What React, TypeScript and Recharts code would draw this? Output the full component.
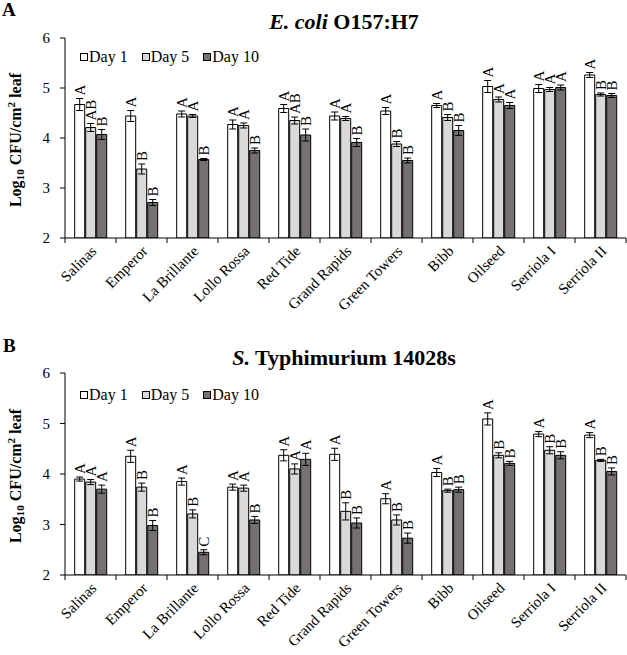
import React from 'react';
import { BarChart, Bar, XAxis, YAxis, ErrorBar, LabelList } from 'recharts';

const categories = ['Salinas', 'Emperor', 'La Brillante', 'Lollo Rossa', 'Red Tide', 'Grand Rapids', 'Green Towers', 'Bibb', 'Oilseed', 'Serriola I', 'Serriola II'];
const yTicks = [2, 3, 4, 5, 6];

// A: E. coli O157:H7
const ecoliDay1 = [4.67, 4.44, 4.48, 4.27, 4.59, 4.44, 4.54, 4.65, 5.03, 4.99, 5.26];
const ecoliDay5 = [4.21, 3.38, 4.44, 4.25, 4.35, 4.39, 3.88, 4.41, 4.77, 4.97, 4.87];
const ecoliDay10 = [4.07, 2.71, 3.57, 3.75, 4.06, 3.91, 3.55, 4.15, 4.65, 5.01, 4.85];
const ecoliErr1 = [0.12, 0.11, 0.06, 0.09, 0.08, 0.08, 0.07, 0.04, 0.12, 0.08, 0.05];
const ecoliErr5 = [0.08, 0.1, 0.03, 0.05, 0.07, 0.04, 0.05, 0.06, 0.05, 0.04, 0.03];
const ecoliErr10 = [0.1, 0.06, 0.02, 0.05, 0.12, 0.08, 0.05, 0.1, 0.06, 0.05, 0.04];
const ecoliLetters1 = ['A', 'A', 'A', 'A', 'A', 'A', 'A', 'A', 'A', 'A', 'A'];
const ecoliLetters5 = ['AB', 'B', 'A', 'A', 'AB', 'A', 'B', 'B', 'A', 'A', 'B'];
const ecoliLetters10 = ['B', 'B', 'B', 'B', 'B', 'B', 'B', 'B', 'A', 'A', 'B'];

// B: S. Typhimurium 14028s
const salDay1 = [3.9, 4.35, 3.85, 3.74, 4.37, 4.39, 3.51, 4.03, 5.09, 4.79, 4.77];
const salDay5 = [3.84, 3.74, 3.21, 3.72, 4.1, 3.26, 3.09, 3.67, 4.37, 4.47, 4.27];
const salDay10 = [3.7, 2.98, 2.45, 3.09, 4.29, 3.03, 2.73, 3.69, 4.21, 4.37, 4.05];
const salErr1 = [0.04, 0.12, 0.07, 0.06, 0.11, 0.12, 0.1, 0.08, 0.12, 0.05, 0.05];
const salErr5 = [0.05, 0.08, 0.08, 0.06, 0.1, 0.17, 0.1, 0.03, 0.05, 0.07, 0.02];
const salErr10 = [0.08, 0.1, 0.05, 0.07, 0.12, 0.1, 0.1, 0.05, 0.04, 0.07, 0.07];
const salLetters1 = ['A', 'A', 'A', 'A', 'A', 'A', 'A', 'A', 'A', 'A', 'A'];
const salLetters5 = ['A', 'B', 'B', 'A', 'A', 'B', 'B', 'B', 'B', 'B', 'B'];
const salLetters10 = ['A', 'B', 'C', 'B', 'A', 'B', 'B', 'B', 'B', 'B', 'B'];

const FONT = '"Liberation Serif", "Times New Roman", serif';
const series = [
  { key: 'd1', err: 'e1', letter: 'l1', label: 'Day 1', fill: '#ffffff' },
  { key: 'd5', err: 'e5', letter: 'l5', label: 'Day 5', fill: '#d9d9d9' },
  { key: 'd10', err: 'e10', letter: 'l10', label: 'Day 10', fill: '#767171' },
];

const buildRows = (d1: number[], d5: number[], d10: number[], e1: number[], e5: number[], e10: number[], l1: string[], l5: string[], l10: string[]) =>
  categories.map((name, i) => ({
    name,
    d1: d1[i], d5: d5[i], d10: d10[i],
    e1: e1[i], e5: e5[i], e10: e10[i],
    l1: l1[i], l5: l5[i], l10: l10[i],
  }));

const ecoliRows = buildRows(ecoliDay1, ecoliDay5, ecoliDay10, ecoliErr1, ecoliErr5, ecoliErr10, ecoliLetters1, ecoliLetters5, ecoliLetters10);
const salRows = buildRows(salDay1, salDay5, salDay10, salErr1, salErr5, salErr10, salLetters1, salLetters5, salLetters10);

// category label at the centre, tick marks on the category boundaries (Excel style)
const CategoryTick = (props: any) => {
  const { x, y, payload } = props;
  const half = payload.offset || 25.5;
  const last = payload.value === categories[categories.length - 1];
  const ax = x + 7;
  const ay = y + 14;
  return (
    <g>
      <line x1={x - half} y1={y} x2={x - half} y2={y + 5} stroke="#000" />
      {last && <line x1={x + half} y1={y} x2={x + half} y2={y + 5} stroke="#000" />}
      <text x={ax} y={ay} transform={`rotate(-45, ${ax}, ${ay})`} textAnchor="end" fontSize={15} fontFamily={FONT} fill="#000">
        {payload.value}
      </text>
    </g>
  );
};

// significance letter sitting on top of the error bar, rotated
const Letter = (props: any) => {
  const { value, index, rows, valueKey, errKey } = props;
  const vb = props.viewBox || {};
  const x = Number(props.x ?? vb.x);
  const y = Number(props.y ?? vb.y);
  const w = Number(props.width ?? vb.width);
  const h = Number(props.height ?? vb.height);
  const row = rows[index];
  if (!row) return null;
  const ppu = h / (row[valueKey] - 2);
  const top = y - row[errKey] * ppu - 3;
  const cx = x + w / 2;
  return (
    <text x={cx} y={top} transform={`rotate(-90, ${cx}, ${top})`} textAnchor="start" dominantBaseline="central" fontSize={15} fontFamily={FONT} fill="#000">
      {value}
    </text>
  );
};

const Panel = ({ rows, height, xAxisHeight }: { rows: any[]; height: number; xAxisHeight: number }) => (
  <BarChart width={627} height={height} data={rows} margin={{ top: 38, right: 1, left: 0, bottom: 0 }} barCategoryGap="19%" barGap={1}>
    <XAxis dataKey="name" interval={0} tickLine={false} tickSize={0} tickMargin={0} tick={<CategoryTick />} height={xAxisHeight} axisLine={{ stroke: '#000' }} />
    <YAxis
      domain={[2, 6]}
      ticks={yTicks}
      width={65}
      tickSize={5}
      tickMargin={10}
      allowDataOverflow
      axisLine={{ stroke: '#000' }}
      tickLine={{ stroke: '#000' }}
      tick={{ fill: '#000', fontSize: 15, fontFamily: FONT }}
    />
    {series.map((s) => (
      <Bar key={s.key} dataKey={s.key} fill={s.fill} stroke="#000" strokeWidth={1} isAnimationActive={false}>
        <ErrorBar dataKey={s.err} direction="y" width={3.5} stroke="#000" strokeWidth={1} />
        <LabelList dataKey={s.letter} content={(p: any) => <Letter {...p} rows={rows} valueKey={s.key} errKey={s.err} />} />
      </Bar>
    ))}
  </BarChart>
);

const LegendRow = ({ top }: { top: number }) => (
  <div style={{ position: 'absolute', left: 80, top, display: 'flex', gap: 14, fontFamily: FONT, fontSize: 16, lineHeight: '16px', alignItems: 'center' }}>
    {series.map((s) => (
      <span key={s.key} style={{ display: 'flex', alignItems: 'center' }}>
        <span style={{ display: 'inline-block', width: 6, height: 6, border: '1px solid #000', background: s.fill, marginRight: 1 }} />
        {s.label}
      </span>
    ))}
  </div>
);

const YLabel = ({ cy }: { cy: number }) => (
  <div style={{ position: 'absolute', left: 16, top: cy, transform: 'translate(-50%, -50%) rotate(-90deg)', whiteSpace: 'nowrap', fontFamily: FONT, fontWeight: 'bold', fontSize: 16, lineHeight: 1 }}>
    Log<sub style={{ fontSize: '0.7em', verticalAlign: '-0.25em' }}>10</sub> CFU/cm<sup style={{ fontSize: '0.7em', verticalAlign: '0.5em' }}>2</sup> leaf
  </div>
);

const panelLetter = { position: 'absolute' as const, fontFamily: FONT, fontWeight: 'bold' as const, fontSize: 19, lineHeight: '19px' };
const titleStyle = { position: 'absolute' as const, left: 344, transform: 'translateX(-50%)', whiteSpace: 'nowrap' as const, fontFamily: FONT, fontWeight: 'bold' as const, fontSize: 22, lineHeight: '22px' };

export default function App() {
  return (
    <div style={{ position: 'absolute', left: 0, top: 0, width: 627, height: 655, background: '#fff', color: '#000' }}>
      <div style={{ ...panelLetter, left: 2, top: 0 }}>A</div>
      <div style={{ ...titleStyle, top: 11 }}>
        <i>E. coli</i> O157:H7
      </div>
      <div style={{ position: 'absolute', left: 0, top: 0 }}>
        <Panel rows={ecoliRows} height={325} xAxisHeight={87} />
      </div>
      <LegendRow top={49} />
      <YLabel cy={140} />

      <div style={{ ...panelLetter, left: 3, top: 336 }}>B</div>
      <div style={{ ...titleStyle, top: 347 }}>
        <i>S.</i> Typhimurium 14028s
      </div>
      <div style={{ position: 'absolute', left: 0, top: 335 }}>
        <Panel rows={salRows} height={320} xAxisHeight={80} />
      </div>
      <LegendRow top={387} />
      <YLabel cy={476} />
    </div>
  );
}
